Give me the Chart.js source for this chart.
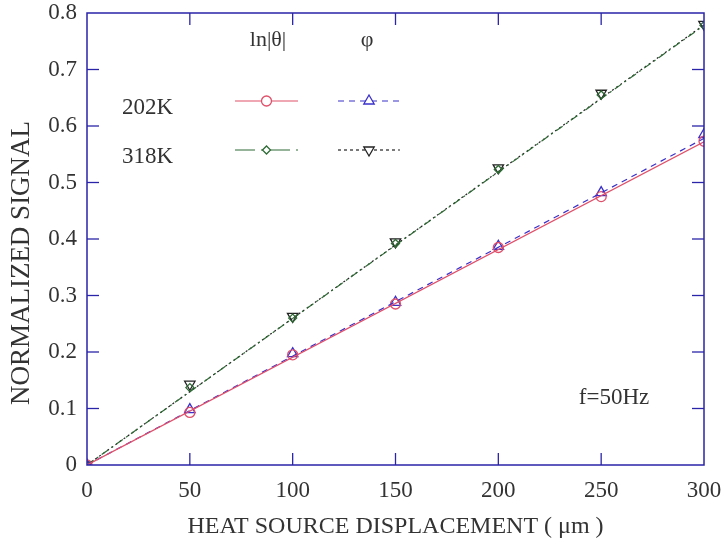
<!DOCTYPE html>
<html>
<head>
<meta charset="utf-8">
<script src="https://cdn.jsdelivr.net/npm/chart.js@4"></script>
<style>
  body { margin: 0; background: #fff; }
</style>
</head>
<body>
<canvas id="graf" width="726" height="545"></canvas>
<script>
// data
const xValues = [0, 50, 100, 150, 200, 250, 300];
const lnT202 = [0, 0.093, 0.195, 0.285, 0.385, 0.475, 0.573];   // 202K ln|θ|
const phi202 = [0, 0.098, 0.197, 0.288, 0.387, 0.482, 0.585];   // 202K φ
const lnT318 = [0, 0.137, 0.260, 0.392, 0.523, 0.655, 0.778];   // 318K ln|θ|
const phi318 = [0, 0.143, 0.263, 0.395, 0.526, 0.658, 0.780];   // 318K φ
// fitted lines (start, end)
const fitX = [0, 300];
const fitLnT202 = [0, 0.572];
const fitPhi202 = [0, 0.578];
const fitLnT318 = [0, 0.778];
const fitPhi318 = [0, 0.779];
const xTicks = [0, 50, 100, 150, 200, 250, 300];
const yTicks = [0, 0.1, 0.2, 0.3, 0.4, 0.5, 0.6, 0.7, 0.8];

const RED = "#e0506a", BLUE = "#3a30c8", GREEN = "#2f6a35", BLACK = "#222";
const FRAME = "#2a24a8";
const SERIF = "'Liberation Serif', 'DejaVu Serif', serif";

function pts(xs, ys) { return xs.map((x, i) => ({x: x, y: ys[i]})); }

function fitSet(ys, color, dash, w) {
  return {data: pts(fitX, ys), borderColor: color, borderWidth: w || 1.2,
          borderDash: dash, pointRadius: 0, showLine: true, fill: false};
}
function markSet(ys, color, style, r, rot) {
  return {data: pts(xValues, ys), borderColor: color, backgroundColor: "rgba(255,255,255,0)",
          pointStyle: style, pointRadius: r, pointRotation: rot || 0, pointBorderWidth: 1.3,
          showLine: false};
}

// frame, inside ticks, y title, legend and note
const decor = {
  id: "decor",
  afterDraw(chart) {
    const c = chart.ctx, a = chart.chartArea;
    const xs = chart.scales.x, ys = chart.scales.y;
    c.save();
    c.strokeStyle = FRAME;
    c.lineWidth = 1.5;
    c.strokeRect(a.left, a.top, a.right - a.left, a.bottom - a.top);
    c.lineWidth = 1.3;
    xTicks.slice(1, -1).forEach(v => {
      const p = xs.getPixelForValue(v);
      c.beginPath(); c.moveTo(p, a.bottom); c.lineTo(p, a.bottom - 12); c.stroke();
      c.beginPath(); c.moveTo(p, a.top); c.lineTo(p, a.top + 12); c.stroke();
    });
    yTicks.slice(1, -1).forEach(v => {
      const p = ys.getPixelForValue(v);
      c.beginPath(); c.moveTo(a.left, p); c.lineTo(a.left + 12, p); c.stroke();
      c.beginPath(); c.moveTo(a.right, p); c.lineTo(a.right - 12, p); c.stroke();
    });

    // y axis title
    c.save();
    c.translate(22, 263);
    c.rotate(-Math.PI / 2);
    c.fillStyle = "#333";
    c.font = "27px " + SERIF;
    c.textAlign = "center"; c.textBaseline = "middle";
    c.fillText("NORMALIZED SIGNAL", 0, 0);
    c.restore();

    // legend inside the plot
    c.fillStyle = "#333";
    c.font = "22px " + SERIF;
    c.textAlign = "center"; c.textBaseline = "middle";
    c.fillText("ln|θ|", 268, 40);
    c.fillText("φ", 367, 40);
    c.font = "23px " + SERIF;
    c.textAlign = "left";
    c.fillText("202K", 122, 108);
    c.fillText("318K", 122, 157);

    function sample(x0, x1, y, color, dash, style, r, rot) {
      c.save();
      c.strokeStyle = color; c.lineWidth = 1.2; c.setLineDash(dash);
      c.beginPath(); c.moveTo(x0, y); c.lineTo(x1, y); c.stroke();
      c.setLineDash([]);
      c.lineWidth = 1.3;
      c.fillStyle = "#fff";
      Chart.helpers.drawPoint(c, {pointStyle: style, radius: r, rotation: rot || 0, borderWidth: 1.3},
                              (x0 + x1) / 2, y);
      c.restore();
    }
    sample(235, 298, 101, RED, [], "circle", 5);
    sample(338, 400, 101, BLUE, [6, 5], "triangle", 6);
    sample(235, 298, 150, GREEN, [20, 6, 3, 6], "rectRot", 4);
    sample(338, 400, 150, BLACK, [3, 3], "triangle", 6, 180);

    c.fillStyle = "#333";
    c.font = "23px " + SERIF;
    c.textAlign = "center";
    c.fillText("f=50Hz", 614, 398);
    c.restore();
  }
};

new Chart("graf", {
  type: "scatter",
  data: {
    datasets: [
      fitSet(fitLnT202, RED, [], 1.3),
      fitSet(fitPhi202, BLUE, [6, 5]),
      fitSet(fitLnT318, GREEN, [8, 4, 2, 4]),
      fitSet(fitPhi318, BLACK, [2, 3]),
      markSet(lnT202, RED, "circle", 5),
      markSet(phi202, BLUE, "triangle", 6),
      markSet(lnT318, GREEN, "rectRot", 4),
      markSet(phi318, BLACK, "triangle", 6, 180)
    ]
  },
  options: {
    responsive: false,
    animation: false,
    layout: {padding: {top: 13, right: 22, left: 0, bottom: 0}},
    plugins: {legend: {display: false}, tooltip: {enabled: false}},
    scales: {
      x: {
        type: "linear", min: 0, max: 300,
        afterBuildTicks: s => { s.ticks = xTicks.map(v => ({value: v})); },
        grid: {display: false, drawTicks: false},
        border: {display: false},
        ticks: {color: "#333", font: {family: SERIF, size: 23}, padding: 12, maxRotation: 0},
        title: {display: true, text: "HEAT SOURCE DISPLACEMENT ( μm )", color: "#333",
                font: {family: SERIF, size: 24}, padding: {top: 4, bottom: 4}},
        afterFit: s => { s.height = 80; s.paddingLeft = 0; s.paddingRight = 0; }
      },
      y: {
        min: 0, max: 0.8,
        afterBuildTicks: s => { s.ticks = yTicks.map(v => ({value: v})); },
        grid: {display: false, drawTicks: false},
        border: {display: false},
        ticks: {color: "#333", font: {family: SERIF, size: 23}, padding: 10,
                callback: v => v === 0 ? "0" : v.toFixed(1)},
        afterFit: s => { s.width = 87; s.paddingTop = 0; s.paddingBottom = 0; }
      }
    }
  },
  plugins: [decor]
});
</script>
</body>
</html>
